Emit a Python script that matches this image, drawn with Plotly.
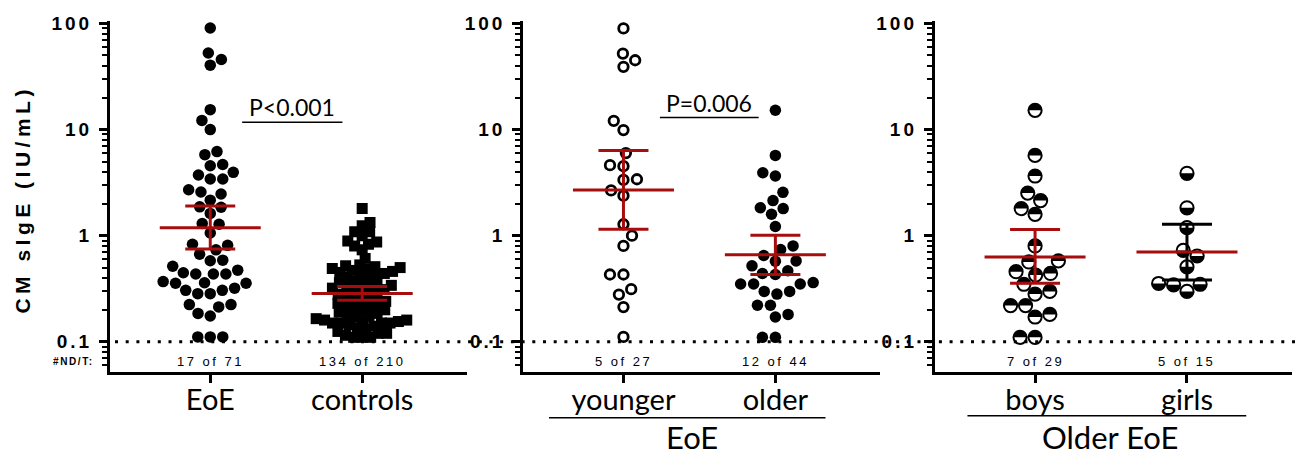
import math
import plotly.graph_objects as go

# ---------------- data ----------------
eoe_vals = [90.6, 52.7, 45.8, 40.5, 15.4, 12.2, 10.0, 6.2, 5.8, 4.56, 4.69, 3.73, 3.95,
            3.42, 3.42, 2.58, 2.47, 2.71, 2.16, 1.87, 1.85, 1.62, 1.28, 1.30, 1.06, 0.81,
            0.83, 0.735, 0.667, 0.587, 0.58, 0.515, 0.473, 0.447, 0.435, 0.435, 0.435,
            0.369, 0.356, 0.36, 0.356, 0.32, 0.305, 0.284, 0.284, 0.305, 0.224, 0.213,
            0.224, 0.185, 0.175, 0.111, 0.111, 0.111]
ctrl_vals = [1.80, 1.33, 1.24, 1.09, 1.09, 1.00, 0.89, 0.87, 0.83, 0.80, 0.735, 0.61,
             0.53, 0.52, 0.51, 0.50, 0.49, 0.48, 0.47, 0.46, 0.45, 0.44, 0.43, 0.42, 0.41, 0.40,
             0.37, 0.36, 0.35, 0.35, 0.34, 0.33, 0.32, 0.32, 0.31, 0.30, 0.29, 0.28, 0.28,
             0.27, 0.26, 0.25,
             0.24, 0.235, 0.23, 0.225, 0.22, 0.21, 0.205, 0.20, 0.195, 0.19, 0.185, 0.18,
             0.175, 0.17,
             0.165, 0.16, 0.16, 0.155, 0.155, 0.15, 0.15, 0.15, 0.15,
             0.145, 0.14, 0.135, 0.13, 0.125, 0.12, 0.12, 0.115, 0.11, 0.11, 0.11]
younger_vals = [89.9, 52, 45, 39, 12.1, 9.9, 6.0, 4.52, 4.62, 3.40, 3.35, 2.67, 2.38, 1.28,
                1.0, 0.80, 0.43, 0.43, 0.313, 0.278, 0.212, 0.111]
older_vals = [15.2, 5.71, 3.92, 3.65, 2.56, 2.14, 1.80, 1.59, 1.83, 1.22, 0.80, 0.74, 0.65,
              0.578, 0.574, 0.519, 0.467, 0.44, 0.43, 0.361, 0.35, 0.35, 0.35, 0.298, 0.281,
              0.298, 0.221, 0.221, 0.181, 0.171, 0.11, 0.11]
boys_vals = [15.2, 5.71, 3.65, 2.52, 2.14, 1.80, 1.59, 0.80, 0.578, 0.565, 0.457, 0.44, 0.425,
             0.348, 0.298, 0.281, 0.219, 0.219, 0.171, 0.181, 0.11, 0.11]
girls_vals = [3.87, 1.83, 1.19, 0.643, 0.726, 0.508, 0.344, 0.298, 0.348, 0.354]

# mean with error-bar upper / lower ends
eoe_stats = (1.19, 1.90, 0.75)
ctrl_stats = (0.285, 0.331, 0.246)
younger_stats = (2.69, 6.36, 1.15)
older_stats = (0.661, 1.01, 0.431)
boys_stats = (0.629, 1.14, 0.356)
girls_stats = (0.70, 1.28, 0.382)

cat_labels = [["EoE", "controls"], ["younger", "older"], ["boys", "girls"]]
count_labels = [["17 of 71", "134 of 210"], ["5 of 27", "12 of 44"], ["7 of 29", "5 of 15"]]
y_tick_vals = [0.1, 1, 10, 100]
y_tick_text = ["0.1", "1", "10", "100"]
p_texts = ["P<0.001", "P=0.006"]
group_titles = ["EoE", "Older EoE"]

# ---------------- layout constants ----------------
W, H = 1297, 458
RED = "#A80D0D"
TOP_PX, BOT_PX = 13.5, 370.5
Y_DOM = [1 - BOT_PX / H, 1 - TOP_PX / H]
YR = [-1.2857, 2.021]
XR = [-0.66, 1.69]
PANEL_LEFT = [110.0, 523.2, 934.8]
PANEL_W = 357.0
PPD = (Y_DOM[1] - Y_DOM[0]) * H / (YR[1] - YR[0])   # px per decade
PPU = PANEL_W / (XR[1] - XR[0])                     # px per category unit


def swarm(vals, dist):
    """Greedy beeswarm: x offsets (axis units) so markers do not overlap."""
    order = sorted(range(len(vals)), key=lambda i: vals[i])
    placed = []
    res = [0.0] * len(vals)
    side = -1
    for i in order:
        y = math.log10(vals[i]) * PPD
        near = [(px, py) for (px, py) in placed if abs(py - y) < dist]

        def free(x):
            for px, py in near:
                if (px - x) ** 2 + (py - y) ** 2 < dist ** 2 - 1e-6:
                    return False
            return True

        cands = [0.0]
        for px, py in near:
            dx = math.sqrt(max(dist ** 2 - (py - y) ** 2, 0.0))
            cands += [px - dx, px + dx]
        ok = [c for c in cands if free(c)]
        m = min(abs(c) for c in ok)
        best = [c for c in ok if abs(c) - m < 0.5]
        pick = next((c for c in best if c * side > 0), best[0])
        if abs(pick) > 0.5:
            side = 1 if pick < 0 else -1
        placed.append((pick, y))
        res[i] = pick / PPU
    return res


fig = go.Figure()


def ax(n):
    return ("x" if n == 1 else f"x{n}"), ("y" if n == 1 else f"y{n}")


def add_points(n, cat, vals, dist, marker):
    xa, ya = ax(n)
    offs = swarm(vals, dist)
    xs = [cat + o for o in offs]
    fig.add_trace(go.Scatter(x=xs, y=vals, mode="markers", marker=marker,
                             xaxis=xa, yaxis=ya, showlegend=False, hoverinfo="skip"))
    return xs


def add_stats(n, cat, stats, bar_color):
    xa, ya = ax(n)
    mean, hi, lo = stats
    fig.add_trace(go.Scatter(
        x=[cat], y=[mean], mode="markers", marker=dict(size=1, color="rgba(0,0,0,0)"),
        error_y=dict(type="data", symmetric=False, array=[hi - mean], arrayminus=[mean - lo],
                     width=25, thickness=3, color=bar_color),
        xaxis=xa, yaxis=ya, showlegend=False, hoverinfo="skip"))
    hw = 50.5 / PPU
    fig.add_trace(go.Scatter(x=[cat - hw, cat + hw], y=[mean, mean], mode="lines",
                             line=dict(color=RED, width=3), xaxis=xa, yaxis=ya,
                             showlegend=False, hoverinfo="skip"))


shapes = []

# dotted detection-limit line across the whole figure
shapes.append(dict(type="line", xref="paper", yref="y", x0=115 / W, x1=1.0, y0=0.1, y1=0.1,
                   line=dict(color="black", width=3, dash="3px,7.7px"), layer="below"))

# panel 1
add_points(1, 0, eoe_vals, 12.5, dict(symbol="circle", size=11.5, color="black"))
add_points(1, 1, ctrl_vals, 8.5, dict(symbol="square", size=11, color="black"))
add_stats(1, 0, eoe_stats, RED)
add_stats(1, 1, ctrl_stats, RED)

# panel 2
add_points(2, 0, younger_vals, 13.5,
           dict(symbol="circle", size=9.5, color="white", line=dict(color="black", width=2.8)))
add_points(2, 1, older_vals, 13, dict(symbol="circle", size=11.5, color="black"))
add_stats(2, 0, younger_stats, RED)
add_stats(2, 1, older_stats, RED)


# panel 3: half-filled circles
def half_path(r, top):
    k = 0.5523 * r
    s = 1 if top else -1
    return (f"M {-r},0 C {-r},{s * k} {-k},{s * r} 0,{s * r} "
            f"C {k},{s * r} {r},{s * k} {r},0 Z")


R = 6.6
for cat, vals, top in [(0, boys_vals, True), (1, girls_vals, False)]:
    xs = add_points(3, cat, vals, 15,
                    dict(symbol="circle", size=2 * R, color="rgba(0,0,0,0)",
                         line=dict(color="black", width=2)))
    for x, v in zip(xs, vals):
        shapes.append(dict(type="circle", xref="x3", yref="y3", xsizemode="pixel",
                           ysizemode="pixel", xanchor=x, yanchor=v, x0=-R, x1=R, y0=-R, y1=R,
                           fillcolor="white", line=dict(width=0), layer="below"))
        shapes.append(dict(type="path", xref="x3", yref="y3", xsizemode="pixel",
                           ysizemode="pixel", xanchor=x, yanchor=v, path=half_path(R, top),
                           fillcolor="black", line=dict(width=0), layer="below"))
add_stats(3, 0, boys_stats, RED)
add_stats(3, 1, girls_stats, "black")

# significance bars
for n, (x0, x1, yl) in zip([1, 2], [(0.21, 0.87, 11.7), (0.24, 0.89, 13.0)]):
    xa, ya = ax(n)
    fig.add_trace(go.Scatter(x=[x0, x1], y=[yl, yl], mode="lines",
                             line=dict(color="black", width=1.5), xaxis=xa, yaxis=ya,
                             showlegend=False, hoverinfo="skip"))

annotations = []
for n, x, ylog, t in [(1, 0.535, 1.209, p_texts[0]), (2, 0.564, 1.255, p_texts[1])]:
    xa, ya = ax(n)
    annotations.append(dict(text=t, x=x, y=ylog, xref=xa, yref=ya, showarrow=False,
                            xanchor="center", yanchor="middle",
                            font=dict(family="Lato", size=23, color="black")))

# counts of non-detects
for n in (1, 2, 3):
    xa, ya = ax(n)
    for c in (0, 1):
        annotations.append(dict(
            text=f'<span style="letter-spacing:2.5px">{count_labels[n - 1][c]}</span>',
            x=c, y=-1.185, xref=xa, yref=ya, showarrow=False,
            xanchor="center", yanchor="middle",
            font=dict(family="Liberation Sans", size=13, color="black")))
annotations.append(dict(text='<span style="letter-spacing:1.6px">#ND/T:</span>',
                        x=96 / W, y=-1.185, xref="paper", yref="y", showarrow=False,
                        xanchor="right", yanchor="middle",
                        font=dict(family="Liberation Sans", size=10, color="black",
                                  weight="bold")))

# y-axis title
annotations.append(dict(text='<span style="letter-spacing:4.5px">CM sIgE (IU/mL)</span>',
                        x=23 / W, y=1 - 195 / H, xref="paper", yref="paper",
                        xanchor="center", yanchor="middle",
                        textangle=-90, showarrow=False,
                        font=dict(family="Liberation Sans", size=21, color="black",
                                  weight="bold")))

# group titles and their lines
for n, x, t, (lx0, lx1, ly) in [(2, 0.45, group_titles[0], (-0.49, 1.33, 417)),
                                (3, 0.49, group_titles[1], (-0.445, 1.39, 415))]:
    xa, _ = ax(n)
    annotations.append(dict(text=t, x=x, y=1 - 437 / H, xref=xa, yref="paper",
                            xanchor="center", yanchor="middle",
                            showarrow=False, font=dict(family="Lato", size=31, color="black")))
    shapes.append(dict(type="line", xref=xa, yref="paper", x0=lx0, x1=lx1,
                       y0=1 - ly / H, y1=1 - ly / H, line=dict(color="black", width=1.5)))

minor_vals = [m * 10 ** e for e in range(-2, 2) for m in range(2, 10)]

layout = dict(width=W, height=H, margin=dict(l=0, r=0, t=0, b=0),
              paper_bgcolor="white", plot_bgcolor="rgba(0,0,0,0)",
              showlegend=False, shapes=shapes, annotations=annotations)
for n in (1, 2, 3):
    left = PANEL_LEFT[n - 1]
    xkey = "xaxis" if n == 1 else f"xaxis{n}"
    ykey = "yaxis" if n == 1 else f"yaxis{n}"
    xa, ya = ax(n)
    layout[xkey] = dict(domain=[left / W, (left + PANEL_W) / W], range=XR, anchor=ya,
                        tickmode="array", tickvals=[0, 1], ticktext=cat_labels[n - 1],
                        showline=True, linewidth=3, linecolor="black", ticks="outside",
                        ticklen=8, tickwidth=3, tickcolor="black", showgrid=False,
                        zeroline=False, ticklabelstandoff=-8,
                        tickfont=dict(family="Lato", size=29, color="black"))
    layout[ykey] = dict(type="log", domain=Y_DOM, range=YR, anchor=xa,
                        tickmode="array", tickvals=y_tick_vals,
                        ticktext=[f'<span style="letter-spacing:3px">{t}</span>'
                                  for t in y_tick_text],
                        showline=True, linewidth=3, linecolor="black", ticks="outside",
                        ticklen=8, tickwidth=3, tickcolor="black", showgrid=False,
                        zeroline=False, ticklabelstandoff=3,
                        tickfont=dict(family="Liberation Sans", size=19, color="black",
                                      weight="bold"),
                        minor=dict(tickmode="array", tickvals=minor_vals, ticks="outside",
                                   ticklen=5, tickwidth=2, tickcolor="black", showgrid=False))

fig.update_layout(**layout)
fig.write_html("out.html")
